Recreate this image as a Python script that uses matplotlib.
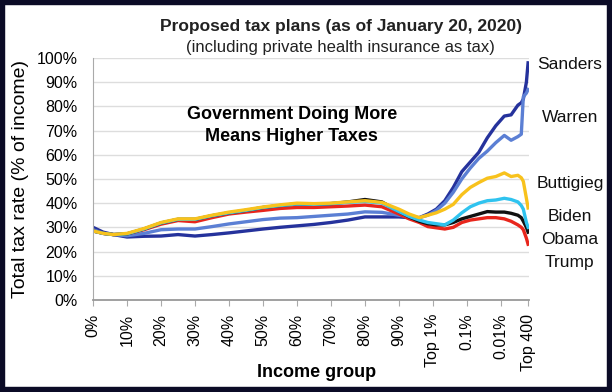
import matplotlib
matplotlib.use("Agg")
import matplotlib.pyplot as plt
from matplotlib.patches import Rectangle
from matplotlib.ticker import PercentFormatter

plt.rcParams['font.family'] = ['Liberation Sans', 'DejaVu Sans']

# x positions: 0..9 = income deciles, 10 = top 1%, 11 = 0.1%, 12 = 0.01%, ~12.8 = top 400
pos = [0, 0.3, 0.6, 1, 1.5, 2, 2.5, 3, 3.5, 4, 4.5, 5, 5.5, 6, 6.5, 7, 7.5, 8, 8.5,
       9, 9.3, 9.6, 9.85, 10.1, 10.35, 10.6, 10.85, 11.1, 11.35, 11.6, 11.85, 12.1,
       12.3, 12.5, 12.6, 12.66, 12.75, 12.8]

tick_labels = ['0%', '10%', '20%', '30%', '40%', '50%', '60%', '70%', '80%', '90%',
               'Top 1%', '0.1%', '0.01%', 'Top 400']
tick_pos = [0, 1, 2, 3, 4, 5, 6, 7, 8, 9, 10, 11, 12, 12.8]

sanders = [30, 28, 27, 26, 26.3, 26.4, 27, 26.4, 27, 27.7, 28.5, 29.3, 30, 30.6, 31.2,
           32, 33, 34.3, 34.3, 34.3, 34, 34, 35.5, 37.5, 41, 46.5, 53, 57, 61, 67, 72,
           76, 76.5, 80.5, 81.5, 83, 90, 98]
warren = [29, 27.5, 27, 26.5, 27.5, 29, 29.3, 29.3, 30.3, 31.4, 32.3, 33.2, 33.8, 34,
          34.5, 35, 35.5, 36.4, 36.2, 35, 34.5, 34, 35, 37, 40, 44.5, 50, 54.5, 58.5,
          61.5, 65, 68, 66, 67.5, 68.5, 84, 85.5, 87]
buttigieg = [28.5, 27.5, 27, 27.5, 29.5, 32, 33.5, 33.5, 35, 36.3, 37.3, 38.4, 39.3, 40,
             39.8, 40, 40.5, 41, 40.3, 37.5, 35.5, 34, 35, 36, 37.5, 39.5, 43.5, 46.5,
             48.5, 50.3, 51, 52.5, 51, 51.5, 50.5, 49, 42, 38]
biden = [28.5, 27.5, 27, 27.3, 29.3, 31.8, 33.3, 33.3, 34.8, 36, 37, 38.2, 39, 39.7,
         39.5, 39.8, 40.3, 40.7, 40, 36.5, 34.5, 33, 32, 31.5, 31, 33, 36, 38.5, 40,
         41, 41.3, 42, 41.5, 40.5, 39, 37.5, 32, 30]
obama = [28.5, 27.5, 27, 27.3, 29.3, 31.8, 33.3, 33.3, 34.8, 36, 37, 38.2, 39, 39.7,
         39.5, 39.8, 40.5, 41.5, 40.5, 36.5, 34.3, 32.5, 31.5, 31, 31, 32, 33.5, 34.5,
         35.5, 36.5, 36.3, 36.3, 35.8, 35, 34, 32.5, 30, 28]
trump = [28.5, 27.5, 27, 27.3, 29, 31.3, 32.8, 32.3, 34, 35.5, 36.3, 37, 37.8, 38.2,
         38.2, 38.5, 38.8, 39.2, 38.5, 35.5, 33.5, 32, 30.3, 29.8, 29.3, 30, 32, 33,
         33.5, 34, 34, 33.5, 32.5, 31, 30, 29, 25.5, 23]

series = [('Sanders', sanders, '#25329c'), ('Warren', warren, '#5b7fd4'),
          ('Trump', trump, '#e8261c'), ('Obama', obama, '#111111'),
          ('Biden', biden, '#2fc3ef'), ('Buttigieg', buttigieg, '#f8c21c')]

name_y = {'Sanders': 97.5, 'Warren': 75.2, 'Buttigieg': 48.3, 'Biden': 34.3,
          'Obama': 24.8, 'Trump': 15.3}

fig = plt.figure(figsize=(6.12, 3.92), dpi=100)
ax = fig.add_axes([0.152, 0.235, 0.712, 0.617])

for name, vals, col in series:
    ax.plot(pos, [v / 100 for v in vals], color=col, lw=2.4, solid_joinstyle='round')
    ax.text(14.03, name_y[name] / 100, name, ha='center', va='center', fontsize=12.5,
            color='#111111', clip_on=False)

ax.set_xlim(0, 12.82)
ax.set_ylim(0, 1.0)
ax.set_yticks([i / 10 for i in range(11)])
ax.yaxis.set_major_formatter(PercentFormatter(1.0, decimals=0))
ax.set_xticks(tick_pos)
ax.set_xticklabels(tick_labels, rotation=90, fontsize=11.5)
ax.tick_params(axis='y', length=0, labelsize=11.5, pad=11)
ax.tick_params(axis='x', length=4, color='#aaaaaa', pad=6)
ax.set_xticks(range(1, 13), minor=True)
ax.tick_params(axis='x', which='minor', length=0)
ax.grid(True, which='major', axis='y', color='#dddddd', lw=1)
ax.grid(True, which='minor', axis='x', color='#dddddd', lw=1)
for s in ['top', 'right']:
    ax.spines[s].set_visible(False)
ax.spines['left'].set_color('#aaaaaa')
ax.spines['bottom'].set_color('#999999')
ax.spines['bottom'].set_linewidth(1.3)

ax.set_ylabel('Total tax rate (% of income)', fontsize=14, va='bottom')
ax.yaxis.set_label_coords(-0.148, 0.5)
ax.set_xlabel('Income group', fontsize=13, fontweight='bold', va='top')
ax.xaxis.set_label_coords(0.514, -0.265)

fig.text(0.557, 0.932, 'Proposed tax plans (as of January 20, 2020)',
         ha='center', va='center', fontsize=12.5, fontweight='bold', color='#222222')
fig.text(0.557, 0.880, '(including private health insurance as tax)',
         ha='center', va='center', fontsize=12, color='#222222')

ax.text(5.85, 0.72, 'Government Doing More\nMeans Higher Taxes', ha='center', va='center',
        fontsize=13, fontweight='bold', linespacing=1.35)

fig.patches.append(Rectangle((0, 0), 1, 1, transform=fig.transFigure, fill=False,
                             edgecolor='#0b0b26', lw=7.5))

fig.savefig('out.png', dpi=100)
